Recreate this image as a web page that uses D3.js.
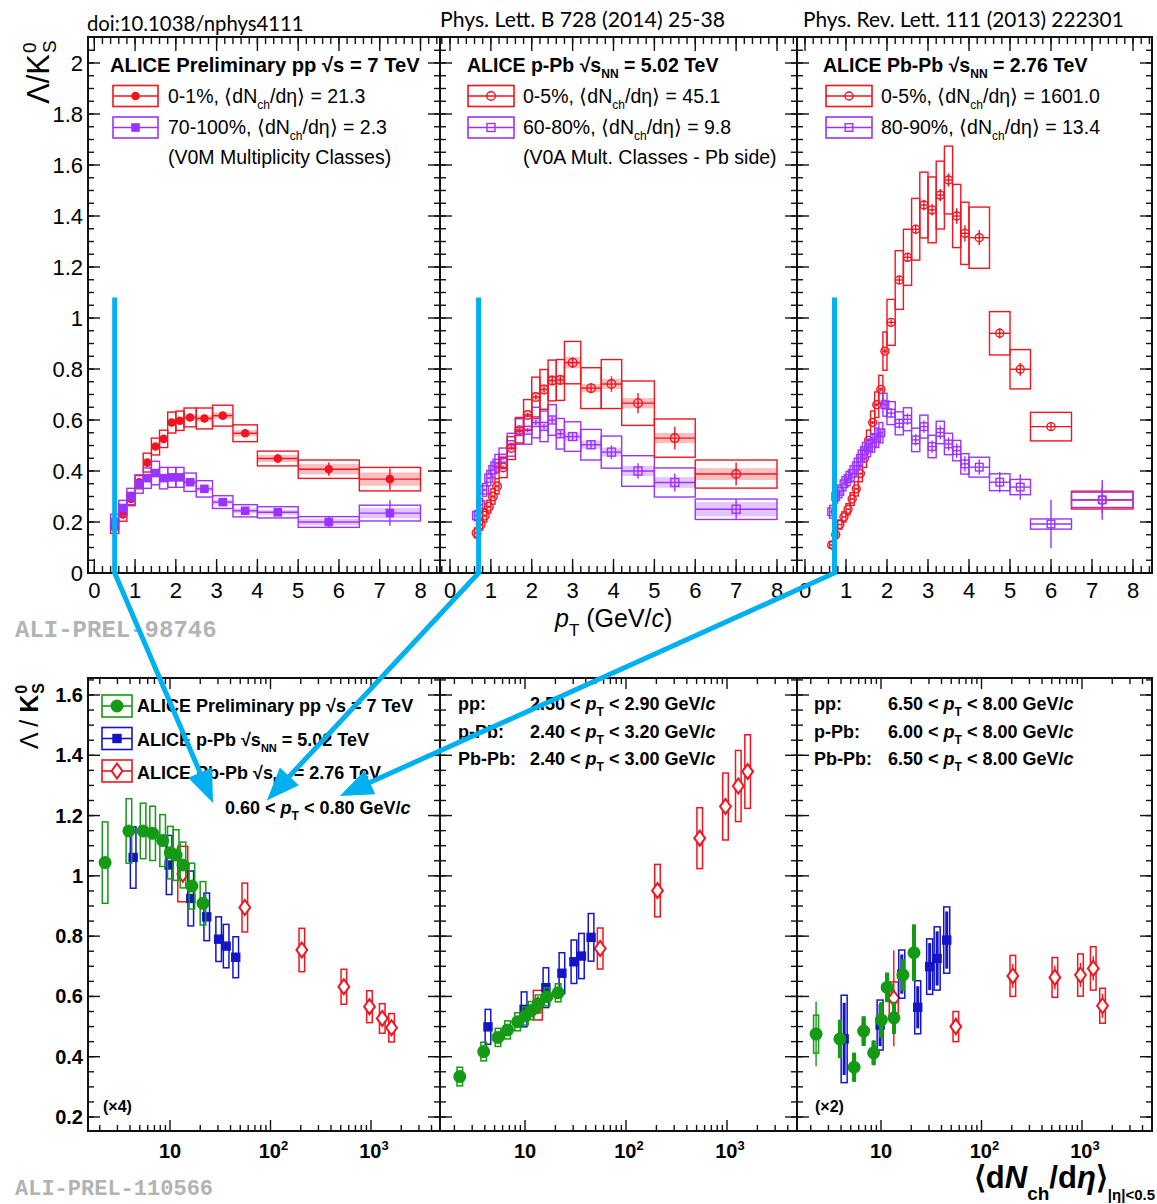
<!DOCTYPE html>
<html><head><meta charset="utf-8">
<script src="https://cdn.jsdelivr.net/npm/d3@7"></script>
<style>body{margin:0;background:#fff}svg{display:block}</style>
</head><body><svg id="c" width="1157" height="1204"></svg>
<script>
// ===================== DATA =====================
// --- top row: Lambda/K0S vs pT ---
const ppEdges   = [0.4,0.6,0.8,1.0,1.2,1.4,1.6,1.8,2.0,2.2,2.5,2.9,3.4,4.0,5.0,6.5,8.0];
const ppHighVal = [0.180,0.230,0.290,0.356,0.433,0.496,0.526,0.590,0.597,0.610,0.606,0.617,0.548,0.449,0.407,0.368];
const ppHighSys = [0.025,0.027,0.026,0.026,0.037,0.033,0.034,0.041,0.038,0.037,0.041,0.041,0.033,0.029,0.036,0.046];
const ppHighUnc = [0.008,0.008,0.008,0.008,0.010,0.010,0.010,0.012,0.012,0.012,0.012,0.012,0.012,0.014,0.020,0.026];
const ppHighStat= [0.004,0.004,0.004,0.004,0.005,0.005,0.005,0.006,0.006,0.006,0.007,0.008,0.014,0.018,0.026,0.042];
const ppLowVal  = [0.200,0.255,0.300,0.349,0.372,0.392,0.372,0.375,0.375,0.356,0.330,0.278,0.244,0.238,0.200,0.235];
const ppLowSys  = [0.030,0.030,0.032,0.036,0.040,0.046,0.042,0.039,0.039,0.036,0.032,0.025,0.024,0.022,0.021,0.031];
const ppLowUnc  = [0.008,0.008,0.008,0.008,0.008,0.010,0.010,0.010,0.010,0.010,0.010,0.010,0.010,0.010,0.012,0.020];
const ppLowStat = [0.004,0.004,0.004,0.004,0.004,0.004,0.004,0.005,0.005,0.005,0.006,0.007,0.008,0.012,0.022,0.050];

const pPbEdges   = [0.6,0.7,0.8,0.9,1.0,1.1,1.2,1.4,1.6,1.8,2.0,2.2,2.4,2.6,2.8,3.2,3.7,4.2,5.0,6.0,8.0];
const pPbHighVal = [0.157,0.190,0.225,0.260,0.300,0.340,0.414,0.490,0.560,0.620,0.690,0.720,0.755,0.757,0.825,0.725,0.741,0.666,0.529,0.388];
const pPbHighSys = [0.020,0.022,0.025,0.025,0.030,0.030,0.040,0.045,0.050,0.060,0.078,0.078,0.080,0.080,0.083,0.080,0.096,0.087,0.075,0.055];
const pPbHighUnc = [0.008,0.008,0.008,0.008,0.010,0.010,0.012,0.014,0.016,0.018,0.020,0.020,0.020,0.020,0.022,0.016,0.020,0.020,0.020,0.023];
const pPbHighStat= [0.003,0.003,0.003,0.003,0.004,0.004,0.005,0.006,0.007,0.008,0.010,0.012,0.014,0.015,0.020,0.020,0.030,0.040,0.045,0.045];
const pPbLowVal  = [0.225,0.268,0.326,0.372,0.405,0.430,0.450,0.503,0.555,0.560,0.590,0.575,0.600,0.546,0.535,0.503,0.474,0.400,0.355,0.250];
const pPbLowSys  = [0.020,0.025,0.025,0.030,0.030,0.035,0.040,0.045,0.050,0.055,0.060,0.060,0.060,0.060,0.058,0.060,0.063,0.060,0.057,0.040];
const pPbLowUnc  = [0.008,0.008,0.008,0.010,0.010,0.010,0.012,0.012,0.014,0.014,0.016,0.016,0.016,0.016,0.016,0.016,0.017,0.020,0.021,0.028];
const pPbLowStat = [0.003,0.003,0.003,0.003,0.004,0.004,0.005,0.006,0.007,0.008,0.010,0.010,0.012,0.012,0.014,0.018,0.027,0.030,0.035,0.040];

const PbPbEdges   = [0.6,0.7,0.8,0.9,1.0,1.1,1.2,1.3,1.4,1.5,1.6,1.7,1.8,1.9,2.0,2.2,2.4,2.6,2.8,3.0,3.2,3.4,3.6,3.8,4.0,4.5,5.0,5.5,6.5,8.0];
const PbPbHighVal = [0.110,0.150,0.190,0.220,0.250,0.290,0.330,0.390,0.450,0.520,0.590,0.660,0.720,0.870,0.983,1.149,1.238,1.348,1.443,1.424,1.482,1.541,1.400,1.332,1.315,0.940,0.799,0.574,0.286];
const PbPbHighSys = [0.012,0.015,0.018,0.020,0.022,0.025,0.028,0.032,0.036,0.040,0.045,0.050,0.055,0.075,0.090,0.115,0.110,0.121,0.129,0.129,0.133,0.133,0.124,0.122,0.120,0.085,0.077,0.056,0.035];
const PbPbHighStat= [0.002,0.002,0.002,0.003,0.003,0.003,0.004,0.004,0.005,0.005,0.006,0.007,0.008,0.010,0.012,0.015,0.016,0.018,0.020,0.022,0.024,0.026,0.030,0.032,0.030,0.020,0.025,0.015,0.050];
const PbPbLowVal  = [0.240,0.300,0.320,0.350,0.370,0.390,0.420,0.450,0.480,0.490,0.510,0.530,0.550,0.660,0.627,0.587,0.603,0.522,0.574,0.496,0.551,0.506,0.480,0.428,0.415,0.356,0.337,0.192,0.287];
const PbPbLowSys  = [0.025,0.025,0.025,0.028,0.028,0.030,0.030,0.032,0.032,0.034,0.036,0.038,0.040,0.045,0.045,0.045,0.045,0.046,0.045,0.044,0.044,0.042,0.040,0.040,0.039,0.033,0.030,0.020,0.030];
const PbPbLowStat = [0.010,0.010,0.010,0.010,0.010,0.010,0.012,0.012,0.012,0.014,0.014,0.016,0.016,0.020,0.020,0.020,0.022,0.022,0.024,0.024,0.026,0.026,0.028,0.030,0.030,0.040,0.050,0.095,0.078];

// --- bottom row: Lambda/K0S vs <dNch/deta> ---
const ppN   = [2.26,3.90,5.40,6.72,8.45,10.08,11.51,13.46,16.51,21.29];
const pPbN  = [4.3,9.8,16.1,23.2,30.5,36.2,45.1];
const PbPbN = [13.4,55.5,205,537,966,1294,1601];

// 0.60 < pT < 0.80 GeV/c (x4)
const ppLowPtVal   = [1.044,1.149,1.149,1.141,1.117,1.077,1.069,1.036,0.966,0.909];
const ppLowPtSys   = [0.135,0.107,0.092,0.090,0.086,0.087,0.084,0.076,0.076,0.072];
const ppLowPtStat  = [0.010,0.008,0.008,0.008,0.008,0.008,0.008,0.008,0.008,0.008];
const pPbLowPtVal  = [1.061,1.036,0.925,0.864,0.790,0.767,0.730];
const pPbLowPtSys  = [0.102,0.098,0.091,0.079,0.074,0.072,0.068];
const pPbLowPtStat = [0.008,0.008,0.008,0.008,0.008,0.008,0.008];
const PbPbLowPtVal = [1.006,0.895,0.754,0.632,0.566,0.527,0.496];
const PbPbLowPtSys = [0.092,0.081,0.072,0.058,0.053,0.049,0.047];
const PbPbLowPtStat= [0.030,0.010,0.008,0.008,0.008,0.008,0.008];

// intermediate pT
const ppMidPtVal   = [0.334,0.417,0.464,0.489,0.516,0.535,0.553,0.575,0.599,0.612];
const ppMidPtSys   = [0.031,0.031,0.030,0.030,0.030,0.030,0.030,0.030,0.030,0.030];
const ppMidPtStat  = [0.010,0.008,0.008,0.008,0.008,0.008,0.008,0.008,0.008,0.008];
const pPbMidPtVal  = [0.499,0.557,0.629,0.677,0.715,0.734,0.796];
const pPbMidPtSys  = [0.058,0.058,0.066,0.068,0.072,0.075,0.079];
const pPbMidPtStat = [0.010,0.008,0.008,0.008,0.008,0.008,0.008];
const PbPbMidPtVal = [0.571,0.759,0.951,1.125,1.230,1.298,1.346];
const PbPbMidPtSys = [0.049,0.068,0.087,0.101,0.111,0.118,0.122];
const PbPbMidPtStat= [0.030,0.012,0.012,0.012,0.012,0.012,0.012];

// high pT (x2)
const ppHighPtVal   = [0.475,0.459,0.365,0.485,0.413,0.522,0.630,0.529,0.671,0.745];
const ppHighPtSys   = [0.063,0.060,0.046,0.047,0.039,0.057,0.047,0.051,0.050,0.090];
const ppHighPtStat  = [0.107,0.064,0.046,0.047,0.039,0.057,0.047,0.051,0.050,0.094];
const pPbHighPtVal  = [0.459,0.505,0.674,0.564,0.699,0.726,0.787];
const pPbHighPtSys  = [0.145,0.083,0.080,0.088,0.092,0.105,0.110];
const pPbHighPtStat = [0.120,0.070,0.065,0.070,0.078,0.090,0.095];
const PbPbHighPtVal = [0.594,0.500,0.668,0.663,0.671,0.693,0.569];
const PbPbHighPtSys = [0.054,0.050,0.068,0.066,0.070,0.072,0.058];
const PbPbHighPtStat= [0.159,0.030,0.040,0.040,0.040,0.040,0.040];

// annotation arrows: start pT in each top panel, tip in bottom-left panel coordinates
const arrowStartPt = [0.5,0.7,0.72];
const arrowTopVal  = 1.08;
const arrowTipN    = [26.8,92,490];
const arrowTipV    = [1.242,1.25,1.265];

// ===================== STYLE / LAYOUT =====================
const FONT = "'Liberation Sans', Arial, Helvetica, sans-serif";
const HFONT = "Lato, 'Open Sans', sans-serif";
const RED='#f2141e', PURPLE='#9a33ff', GREEN='#159a15', BLUE='#1515c8', CYAN='#00b0f0';
const svg = d3.select('#c');
const TOP_T=37, TOP_B=573;
const topY = d3.scaleLinear().domain([0,2]).range([573,63]);
const topGeom = [{L:88,R:440,x0:94.3,x8:420.5},{L:440,R:797,x0:450,x8:777},{L:797,R:1152,x0:805,x8:1133}];
const BOT_T=678, BOT_B=1131;
const botY = d3.scaleLinear().domain([0.2,1.6]).range([1117,695]);
const botGeom = [{L:88,R:440,x10:170,x1000:371},{L:440,R:797,x10:525,x1000:727},{L:797,R:1152,x10:881,x1000:1082}];

function rich(parent, x, y, parts, o={}) {
  const base = o.size||18;
  const t = parent.append('text').attr('x',x).attr('y',y)
    .attr('font-family', o.family||FONT).attr('font-size', base)
    .attr('font-weight', o.weight||'normal').attr('fill', o.fill||'#000')
    .attr('text-anchor', o.anchor||'start');
  let cur = 0;
  parts.forEach(p => {
    if (typeof p === 'string') p = {t:p};
    const shift = p.sub ? base*(p.subShift||0.32) : p.sup ? -base*0.42 : 0;
    const ts = t.append('tspan').text(p.t);
    if (shift-cur !== 0) ts.attr('dy', shift-cur);
    cur = shift;
    if (p.sub||p.sup) ts.attr('font-size', p.size || base*0.62);
    else if (p.size) ts.attr('font-size', p.size);
    if (p.it) ts.attr('font-style','italic');
    if (p.w) ts.attr('font-weight', p.w);
    if (p.dx) ts.attr('dx', p.dx);
  });
  return t;
}

function drawMarkers(g, pts, st) {
  const fill = st.filled ? st.color : (st.inner||'none');
  const sw = st.sw||1.4;
  if (st.marker==='circle') {
    g.selectAll(null).data(pts).join('circle').attr('cx',d=>d[0]).attr('cy',d=>d[1]).attr('r',st.size)
      .attr('fill',fill).attr('stroke',st.color).attr('stroke-width',sw);
  } else if (st.marker==='square') {
    g.selectAll(null).data(pts).join('rect').attr('x',d=>d[0]-st.size).attr('y',d=>d[1]-st.size)
      .attr('width',2*st.size).attr('height',2*st.size).attr('fill',fill).attr('stroke',st.color).attr('stroke-width',sw);
  } else {
    const w=st.size*0.72, h=st.size;
    g.selectAll(null).data(pts).join('path')
      .attr('d',d=>`M${d[0]},${d[1]-h}L${d[0]+w},${d[1]}L${d[0]},${d[1]+h}L${d[0]-w},${d[1]}Z`)
      .attr('fill',fill).attr('stroke',st.color).attr('stroke-width',sw);
  }
}

function drawFrame(g, G, T, B, xs, ys, xMaj, xMin, yMaj, yMin, tk) {
  const lines = [];
  const inX = v => { const p = xs(v); return p >= G.L+1 && p <= G.R-1; };
  const inY = v => { const p = ys(v); return p >= T+1 && p <= B-1; };
  xMaj.filter(inX).forEach(v => { const p=xs(v); lines.push([p,B,p,B-tk.xM],[p,T,p,T+tk.xM]); });
  xMin.filter(inX).forEach(v => { const p=xs(v); lines.push([p,B,p,B-tk.xm],[p,T,p,T+tk.xm]); });
  yMaj.filter(inY).forEach(v => { const p=ys(v); lines.push([G.L,p,G.L+tk.yM,p],[G.R,p,G.R-tk.yM,p]); });
  yMin.filter(inY).forEach(v => { const p=ys(v); lines.push([G.L,p,G.L+tk.ym,p],[G.R,p,G.R-tk.ym,p]); });
  g.append('g').attr('stroke','#111').attr('stroke-width',1.4).selectAll('line').data(lines).join('line')
    .attr('x1',d=>d[0]).attr('y1',d=>d[1]).attr('x2',d=>d[2]).attr('y2',d=>d[3]);
  g.append('rect').attr('x',G.L).attr('y',T).attr('width',G.R-G.L).attr('height',B-T)
    .attr('fill','none').attr('stroke','#111').attr('stroke-width',2);
}

const fmtNum = v => Math.abs(v-Math.round(v))<1e-9 ? String(Math.round(v)) : v.toFixed(1);

// ===================== TOP ROW =====================
const topSeries = [
  [ {edges:ppEdges,val:ppHighVal,sys:ppHighSys,unc:ppHighUnc,stat:ppHighStat,color:RED,marker:'circle',filled:true,size:3.6},
    {edges:ppEdges,val:ppLowVal,sys:ppLowSys,unc:ppLowUnc,stat:ppLowStat,color:PURPLE,marker:'square',filled:true,size:3.6} ],
  [ {edges:pPbEdges,val:pPbLowVal,sys:pPbLowSys,unc:pPbLowUnc,stat:pPbLowStat,color:PURPLE,marker:'square',filled:false,size:4},
    {edges:pPbEdges,val:pPbHighVal,sys:pPbHighSys,unc:pPbHighUnc,stat:pPbHighStat,color:RED,marker:'circle',filled:false,size:4.3} ],
  [ {edges:PbPbEdges,val:PbPbHighVal,sys:PbPbHighSys,stat:PbPbHighStat,color:RED,marker:'circle',filled:false,size:4},
    {edges:PbPbEdges,val:PbPbLowVal,sys:PbPbLowSys,stat:PbPbLowStat,color:PURPLE,marker:'square',filled:false,size:3.8} ]
];
const topScales = [];
topGeom.forEach((G,i) => {
  const x = d3.scaleLinear().domain([0,8]).range([G.x0,G.x8]);
  topScales.push(x);
  const g = svg.append('g');
  const cid = 'clipT'+i;
  svg.append('clipPath').attr('id',cid).append('rect').attr('x',G.L).attr('y',TOP_T).attr('width',G.R-G.L).attr('height',TOP_B-TOP_T);
  const dg = g.append('g').attr('clip-path',`url(#${cid})`);
  topSeries[i].forEach(s => {
    const pts = s.val.map((v,k)=>({lo:s.edges[k],hi:s.edges[k+1],v,sys:s.sys[k],stat:s.stat[k],unc:s.unc?s.unc[k]:0}));
    if (s.unc) {
      dg.append('g').attr('fill',s.color).attr('fill-opacity',0.28).selectAll('rect').data(pts).join('rect')
        .attr('x',d=>x(d.lo)).attr('width',d=>x(d.hi)-x(d.lo))
        .attr('y',d=>topY(d.v+d.unc)).attr('height',d=>topY(d.v-d.unc)-topY(d.v+d.unc));
    }
    const sg = dg.append('g').attr('stroke',s.color).attr('fill','none').attr('stroke-width',1.4);
    sg.selectAll('rect.box').data(pts).join('rect').attr('class','box')
      .attr('x',d=>x(d.lo)).attr('width',d=>x(d.hi)-x(d.lo))
      .attr('y',d=>topY(d.v+d.sys)).attr('height',d=>topY(d.v-d.sys)-topY(d.v+d.sys));
    sg.selectAll('line.h').data(pts).join('line').attr('class','h')
      .attr('x1',d=>x(d.lo)).attr('x2',d=>x(d.hi)).attr('y1',d=>topY(d.v)).attr('y2',d=>topY(d.v));
    sg.selectAll('line.v').data(pts).join('line').attr('class','v')
      .attr('x1',d=>x((d.lo+d.hi)/2)).attr('x2',d=>x((d.lo+d.hi)/2))
      .attr('y1',d=>topY(d.v+d.stat)).attr('y2',d=>topY(d.v-d.stat));
    drawMarkers(sg.append('g'), pts.map(d=>[x((d.lo+d.hi)/2), topY(d.v)]), s);
  });
  drawFrame(g, G, TOP_T, TOP_B, x, topY,
    d3.range(0,9,1), d3.range(-0.4,8.61,0.2).map(v=>+v.toFixed(2)),
    d3.range(0,2.01,0.2).map(v=>+v.toFixed(2)), d3.range(0,2.11,0.05).map(v=>+v.toFixed(2)),
    {xM:14,xm:7,yM:12,ym:6});
  g.append('g').selectAll('text').data(d3.range(0,9,1)).join('text')
    .attr('x',d=>x(d)).attr('y',598).attr('text-anchor','middle')
    .attr('font-family',FONT).attr('font-size',22).text(d=>d);
  if (i===0) {
    g.append('g').selectAll('text').data(d3.range(0,2.01,0.2).map(v=>+v.toFixed(2))).join('text')
      .attr('x',83).attr('y',d=>topY(d)+8).attr('text-anchor','end')
      .attr('font-family',FONT).attr('font-size',22).text(d=>fmtNum(d));
  }
});

// top legends
function topLegend(boxL, boxR, textX, title, rows, note) {
  const g = svg.append('g');
  rich(g, title.x, 72, title.parts, {size:title.size||19.5, weight:'bold'});
  rows.forEach((r,k) => {
    const cy = [96,127.5][k];
    const lg = g.append('g').attr('stroke',r.st.color).attr('fill','none').attr('stroke-width',1.6);
    lg.append('rect').attr('x',boxL).attr('y',cy-10.5).attr('width',boxR-boxL).attr('height',21);
    lg.append('line').attr('x1',boxL).attr('x2',boxR).attr('y1',cy).attr('y2',cy);
    drawMarkers(lg, [[(boxL+boxR)/2, cy]], r.st);
    rich(g, textX, [102.5,134][k], r.parts, {size:19.5});
  });
  if (note) g.append('text').attr('x',textX).attr('y',164).attr('font-family',FONT).attr('font-size',19.5).text(note);
}
const dndeta = v => ['⟨dN', {t:'ch',sub:true,size:12}, '/dη⟩ = '+v];
topLegend(113,158,168,{x:110,size:20.2,parts:['ALICE Preliminary pp  √s = 7 TeV']},
  [{st:topSeries[0][0],parts:['0-1%, ',...dndeta('21.3')]},{st:topSeries[0][1],parts:['70-100%, ',...dndeta('2.3')]}],
  '(V0M Multiplicity Classes)');
topLegend(468,514,523,{x:467,parts:['ALICE p-Pb  √s',{t:'NN',sub:true,size:12},' = 5.02 TeV']},
  [{st:topSeries[1][1],parts:['0-5%, ',...dndeta('45.1')]},{st:topSeries[1][0],parts:['60-80%, ',...dndeta('9.8')]}],
  '(V0A Mult. Classes - Pb side)');
topLegend(826,872,881,{x:823,parts:['ALICE Pb-Pb  √s',{t:'NN',sub:true,size:12},' = 2.76 TeV']},
  [{st:topSeries[2][0],parts:['0-5%, ',...dndeta('1601.0')]},{st:topSeries[2][1],parts:['80-90%, ',...dndeta('13.4')]}],
  null);

// top axis titles
rich(svg, 555, 627, [{t:'p',it:true},{t:'T',sub:true,size:17,subShift:0.35},' (GeV/',{t:'c',it:true},')'], {size:25});
(function(){
  const g = svg.append('g').attr('transform','translate(49,104) rotate(-90)');
  const t = g.append('text').attr('x',0).attr('y',0).attr('font-family',FONT).attr('font-size',31).text('Λ/K');
  const w = t.node().getComputedTextLength();
  g.append('text').attr('x',w+1).attr('y',-13).attr('font-family',FONT).attr('font-size',19).text('0');
  g.append('text').attr('x',w+1).attr('y',7).attr('font-family',FONT).attr('font-size',19).text('S');
})();

// ===================== BOTTOM ROW =====================
const botSets = [
  [ {N:PbPbN,val:PbPbLowPtVal,sys:PbPbLowPtSys,stat:PbPbLowPtStat,color:RED,marker:'diamond',filled:false,inner:'#fff',size:7.5,sw:2,hw:[5,2.8,2.8,2.8,2.8,2.8,2.8]},
    {N:pPbN,val:pPbLowPtVal,sys:pPbLowPtSys,stat:pPbLowPtStat,color:BLUE,marker:'square',filled:true,size:4,hw:2.8},
    {N:ppN,val:ppLowPtVal,sys:ppLowPtSys,stat:ppLowPtStat,color:GREEN,marker:'circle',filled:true,size:5.8,hw:2.8} ],
  [ {N:PbPbN,val:PbPbMidPtVal,sys:PbPbMidPtSys,stat:PbPbMidPtStat,color:RED,marker:'diamond',filled:false,inner:'#fff',size:7.5,sw:2,hw:[4.5,2.8,2.8,2.8,2.8,2.8,2.8]},
    {N:pPbN,val:pPbMidPtVal,sys:pPbMidPtSys,stat:pPbMidPtStat,color:BLUE,marker:'square',filled:true,size:4,hw:2.8},
    {N:ppN,val:ppMidPtVal,sys:ppMidPtSys,stat:ppMidPtStat,color:GREEN,marker:'circle',filled:true,size:5.8,hw:2.8} ],
  [ {N:PbPbN,val:PbPbHighPtVal,sys:PbPbHighPtSys,stat:PbPbHighPtStat,color:RED,marker:'diamond',filled:false,inner:'#fff',size:7.5,sw:2,hw:[4.5,2.8,2.8,2.8,2.8,2.8,2.8]},
    {N:pPbN,val:pPbHighPtVal,sys:pPbHighPtSys,stat:pPbHighPtStat,color:BLUE,marker:'square',filled:true,size:4,hw:3,statW:3},
    {N:ppN,val:ppHighPtVal,sys:ppHighPtSys,stat:ppHighPtStat,color:GREEN,marker:'circle',filled:true,size:5.8,hw:[2.5,1.2,1.2,1.2,1.2,1.2,1.2,1.2,1.2,1.2],statW:[1.4,4,4,4,4,4,4,4,4,4]} ]
];
const botScales = [];
botGeom.forEach((G,i) => {
  const x = d3.scaleLog().domain([10,1000]).range([G.x10,G.x1000]);
  botScales.push(x);
  const g = svg.append('g');
  const cid = 'clipB'+i;
  svg.append('clipPath').attr('id',cid).append('rect').attr('x',G.L).attr('y',BOT_T).attr('width',G.R-G.L).attr('height',BOT_B-BOT_T);
  const dg = g.append('g').attr('clip-path',`url(#${cid})`);
  botSets[i].forEach(s => {
    const pts = s.val.map((v,k)=>({n:s.N[k],v,sys:s.sys[k],stat:s.stat[k],
      hw:Array.isArray(s.hw)?s.hw[k]:s.hw, sw:Array.isArray(s.statW)?s.statW[k]:(s.statW||1.4)}));
    const sg = dg.append('g').attr('stroke',s.color).attr('fill','none').attr('stroke-width',1.5);
    sg.selectAll('rect.box').data(pts).join('rect').attr('class','box')
      .attr('x',d=>x(d.n)-d.hw).attr('width',d=>2*d.hw)
      .attr('y',d=>botY(d.v+d.sys)).attr('height',d=>botY(d.v-d.sys)-botY(d.v+d.sys));
    sg.selectAll('line.v').data(pts).join('line').attr('class','v')
      .attr('x1',d=>x(d.n)).attr('x2',d=>x(d.n)).attr('stroke-width',d=>d.sw)
      .attr('y1',d=>botY(d.v+d.stat)).attr('y2',d=>botY(d.v-d.stat));
    drawMarkers(sg.append('g'), pts.map(d=>[x(d.n), botY(d.v)]), s);
  });
  const minors = [];
  [1,10,100,1000].forEach(d => { for (let k=2;k<=9;k++) minors.push(d*k); });
  drawFrame(g, G, BOT_T, BOT_B, x, botY, [1,10,100,1000,10000], minors,
    d3.range(0.2,1.61,0.2).map(v=>+v.toFixed(2)), d3.range(0.15,1.66,0.05).map(v=>+v.toFixed(2)),
    {xM:11,xm:6,yM:12,ym:6});
  const xl = g.append('g');
  rich(xl, x(10), 1158, ['10'], {size:20, weight:'bold', anchor:'middle'});
  rich(xl, x(100)+3, 1158, ['10',{t:'2',sup:true,size:13}], {size:20, weight:'bold', anchor:'middle'});
  rich(xl, x(1000)+3, 1158, ['10',{t:'3',sup:true,size:13}], {size:20, weight:'bold', anchor:'middle'});
  if (i===0) {
    g.append('g').selectAll('text').data(d3.range(0.2,1.61,0.2).map(v=>+v.toFixed(2))).join('text')
      .attr('x',83).attr('y',d=>botY(d)+7).attr('text-anchor','end').attr('font-weight','bold')
      .attr('font-family',FONT).attr('font-size',20).text(d=>fmtNum(d));
  }
});

// bottom legend and labels
(function(){
  const g = svg.append('g');
  const rows = [
    {st:botSets[0][2], cy:706, by:712, parts:['ALICE Preliminary pp  √s = 7 TeV']},
    {st:botSets[0][1], cy:738.5, by:746, parts:['ALICE p-Pb  √s',{t:'NN',sub:true,size:11},' = 5.02 TeV']},
    {st:botSets[0][0], cy:771, by:779, parts:['ALICE Pb-Pb  √s',{t:'NN',sub:true,size:11},' = 2.76 TeV']}
  ];
  rows.forEach(r => {
    const lg = g.append('g').attr('stroke',r.st.color).attr('fill','none').attr('stroke-width',1.6);
    lg.append('rect').attr('x',102).attr('y',r.cy-11).attr('width',30).attr('height',22);
    lg.append('line').attr('x1',102).attr('x2',132).attr('y1',r.cy).attr('y2',r.cy);
    drawMarkers(lg, [[117, r.cy]], r.st);
    rich(g, 137, r.by, r.parts, {size:18, weight:'bold'});
  });
  const pt = (a,b) => [a+' < ',{t:'p',it:true},{t:'T',sub:true,size:12},' < '+b+' GeV/',{t:'c',it:true}];
  rich(g, 225, 814, pt('0.60','0.80'), {size:18, weight:'bold'});
  const lab = [['pp:',710],['p-Pb:',738],['Pb-Pb:',765]];
  const mid = [['2.50','2.90'],['2.40','3.20'],['2.40','3.00']];
  const hi  = [['6.50','8.00'],['6.00','8.00'],['6.50','8.00']];
  lab.forEach((l,k) => {
    rich(g, 458, l[1], [l[0]], {size:18, weight:'bold'});
    rich(g, 530, l[1], pt(mid[k][0],mid[k][1]), {size:18, weight:'bold'});
    rich(g, 814, l[1], [l[0]], {size:18, weight:'bold'});
    rich(g, 888, l[1], pt(hi[k][0],hi[k][1]), {size:18, weight:'bold'});
  });
  rich(g, 103, 1112, ['(×4)'], {size:16, weight:'bold'});
  rich(g, 815, 1112, ['(×2)'], {size:16, weight:'bold'});
  rich(g, 1155, 1188, ['⟨d',{t:'N',it:true},{t:'ch',sub:true,size:19,subShift:0.38},'/d',{t:'η',it:true},'⟩',{t:'|η|<0.5',sub:true,size:15,subShift:0.4}], {size:31, weight:'bold', anchor:'end'});
  const yg = svg.append('g').attr('transform','translate(38,749) rotate(-90)');
  const t = yg.append('text').attr('x',0).attr('y',0).attr('font-family',FONT).attr('font-size',25);
  t.append('tspan').text('Λ / ');
  t.append('tspan').attr('font-weight','bold').text('K');
  const w = t.node().getComputedTextLength();
  yg.append('text').attr('x',w+1).attr('y',-11).attr('font-family',FONT).attr('font-weight','bold').attr('font-size',16).text('0');
  yg.append('text').attr('x',w+1).attr('y',6).attr('font-family',FONT).attr('font-weight','bold').attr('font-size',16).text('S');
})();

// headers and ALICE labels
svg.append('text').attr('x',87).attr('y',31).attr('font-family',HFONT).attr('font-size',20.3).text('doi:10.1038/nphys4111');
svg.append('text').attr('x',440).attr('y',27).attr('font-family',HFONT).attr('font-size',21.2).text('Phys. Lett. B 728 (2014) 25-38');
svg.append('text').attr('x',803).attr('y',27).attr('font-family',HFONT).attr('font-size',20.8).text('Phys. Rev. Lett. 111 (2013) 222301');
svg.append('text').attr('x',15).attr('y',637).attr('font-family',"'Liberation Mono', monospace").attr('font-weight','bold').attr('font-size',24).attr('fill','#b3b3b3').text('ALI-PREL-98746');
svg.append('text').attr('x',15).attr('y',1195).attr('font-family',"'Liberation Mono', monospace").attr('font-weight','bold').attr('font-size',22).attr('fill','#b3b3b3').text('ALI-PREL-110566');

// arrows
(function(){
  const g = svg.append('g');
  const xb = botScales[0];
  arrowStartPt.forEach((p,k) => {
    const x0 = topScales[k](p);
    const y0 = topY(arrowTopVal), y1 = topY(0);
    const tx = xb(arrowTipN[k]), ty = botY(arrowTipV[k]);
    const dx = tx-x0, dy = ty-y1, L = Math.hypot(dx,dy), ux=dx/L, uy=dy/L;
    const hl = 33, hw = 13;
    const bx = tx-ux*hl, by = ty-uy*hl;
    g.append('path').attr('d',`M${x0},${y0}L${x0},${y1}L${bx+ux*4},${by+uy*4}`)
      .attr('fill','none').attr('stroke',CYAN).attr('stroke-width',5).attr('stroke-linejoin','miter');
    g.append('path').attr('d',`M${tx},${ty}L${bx-uy*hw},${by+ux*hw}L${bx+uy*hw},${by-ux*hw}Z`).attr('fill',CYAN);
  });
})();
</script></body></html>
